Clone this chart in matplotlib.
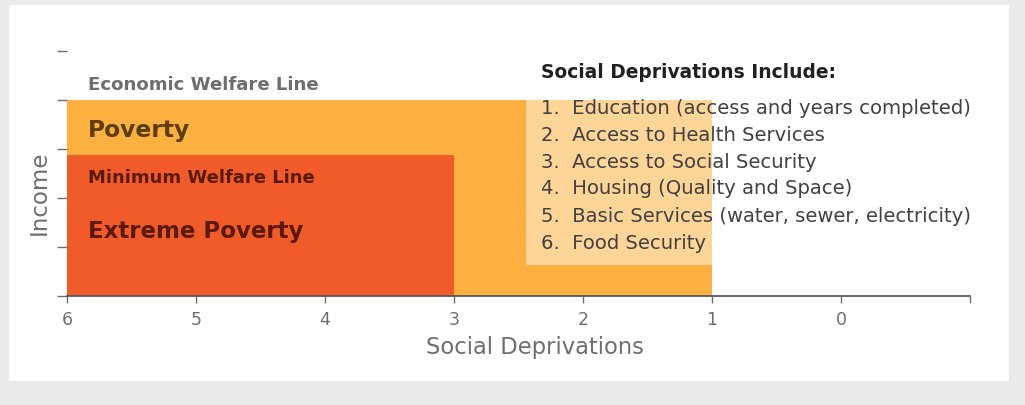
import matplotlib
matplotlib.use("Agg")
import matplotlib.pyplot as plt
from matplotlib.patches import Rectangle

# ---- data ----
zones = ["Poverty", "Extreme Poverty"]
zone_min_deprivations = [1, 3]        # zone spans from 6 deprivations down to this
zone_income_top = [4.0, 2.88]         # income level (welfare line) of each zone
zone_colors = ["#FBB040", "#F15A29"]

list_box_x = [2.44, 1.0]
list_box_y = [0.63, 4.0]

x_ticks = [6, 5, 4, 3, 2, 1, 0, -1]
x_tick_labels = ["6", "5", "4", "3", "2", "1", "0", ""]
y_ticks = [0, 1, 2, 3, 4, 5]

deprivation_items = [
    "1.  Education (access and years completed)",
    "2.  Access to Health Services",
    "3.  Access to Social Security",
    "4.  Housing (Quality and Space)",
    "5.  Basic Services (water, sewer, electricity)",
    "6.  Food Security",
]

FONT = "DejaVu Sans"
W, H = 1025, 405
fig = plt.figure(figsize=(W / 100, H / 100), dpi=100)
fig.patch.set_facecolor("#EAEAEC")
panel = Rectangle((9 / W, (H - 381) / H), 1000 / W, 376 / H,
                  transform=fig.transFigure, facecolor="white",
                  edgecolor="none", zorder=-5)
fig.add_artist(panel)

ax = fig.add_axes([67 / W, (H - 296) / H, 903 / W, 245 / H])
ax.set_zorder(5)
ax.set_facecolor("none")
ax.set_xlim(6, -1)
ax.set_ylim(0, 5)

for xmin, top, c in zip(zone_min_deprivations, zone_income_top, zone_colors):
    ax.add_patch(Rectangle((xmin, 0), 6 - xmin, top, facecolor=c,
                           edgecolor="none", zorder=1))
ax.add_patch(Rectangle((list_box_x[1], list_box_y[0]),
                       list_box_x[0] - list_box_x[1],
                       list_box_y[1] - list_box_y[0],
                       facecolor="#FDD597", edgecolor="none", zorder=2))

for s in ["top", "right", "left"]:
    ax.spines[s].set_visible(False)
ax.spines["bottom"].set_color("#58595B")
ax.spines["bottom"].set_linewidth(1.3)
ax.spines["bottom"].set_zorder(5)

ax.set_xticks(x_ticks)
ax.set_xticklabels(x_tick_labels)
ax.set_yticks(y_ticks)
ax.set_yticklabels([])
ax.tick_params(axis="x", direction="out", length=5, width=1, color="#6D6E71",
               labelcolor="#6D6E71", labelsize=12.5, pad=6)
ax.tick_params(axis="y", direction="out", length=7, width=1, color="#6D6E71")
for lbl in ax.get_xticklabels():
    lbl.set_family(FONT)

ax.set_xlabel("Social Deprivations", fontsize=16.3, color="#6D6E71", family=FONT)
ax.xaxis.label.set_va("baseline")
ax.xaxis.set_label_coords((534.5 - 67) / 903, (296 - 354) / 245)
ax.set_ylabel("Income", fontsize=16.5, color="#6D6E71", family=FONT)
ax.yaxis.label.set_va("center")
ax.yaxis.set_label_coords((39 - 67) / 903, (296 - 193) / 245)

x0 = 6 - 21 / 129
ax.text(x0, 4.194, "Economic Welfare Line", fontsize=13.1, fontweight="bold",
        color="#6D6E71", family=FONT, va="baseline", zorder=6)
ax.text(x0, 3.239, "Poverty", fontsize=16.8, fontweight="bold",
        color="#5C3E00", family=FONT, va="baseline", zorder=6)
ax.text(x0, 2.300, "Minimum Welfare Line", fontsize=13.0, fontweight="bold",
        color="#5A1A00", family=FONT, va="baseline", zorder=6)
ax.text(x0, 1.190, "Extreme Poverty", fontsize=16.5, fontweight="bold",
        color="#5A1A00", family=FONT, va="baseline", zorder=6)

xl = 6 - (541 - 67) / 129
ax.text(xl, 4.443, "Social Deprivations Include:", fontsize=13.4,
        fontweight="bold", color="#231F20", family=FONT, va="baseline",
        zorder=6)
list_y = [3.714, 3.169, 2.618, 2.075, 1.516, 0.959]
for yy, item in zip(list_y, deprivation_items):
    ax.text(xl, yy, item, fontsize=14.1, color="#414042",
            family=FONT, va="baseline", zorder=6)

fig.savefig("out.png", dpi=100, facecolor=fig.get_facecolor())
